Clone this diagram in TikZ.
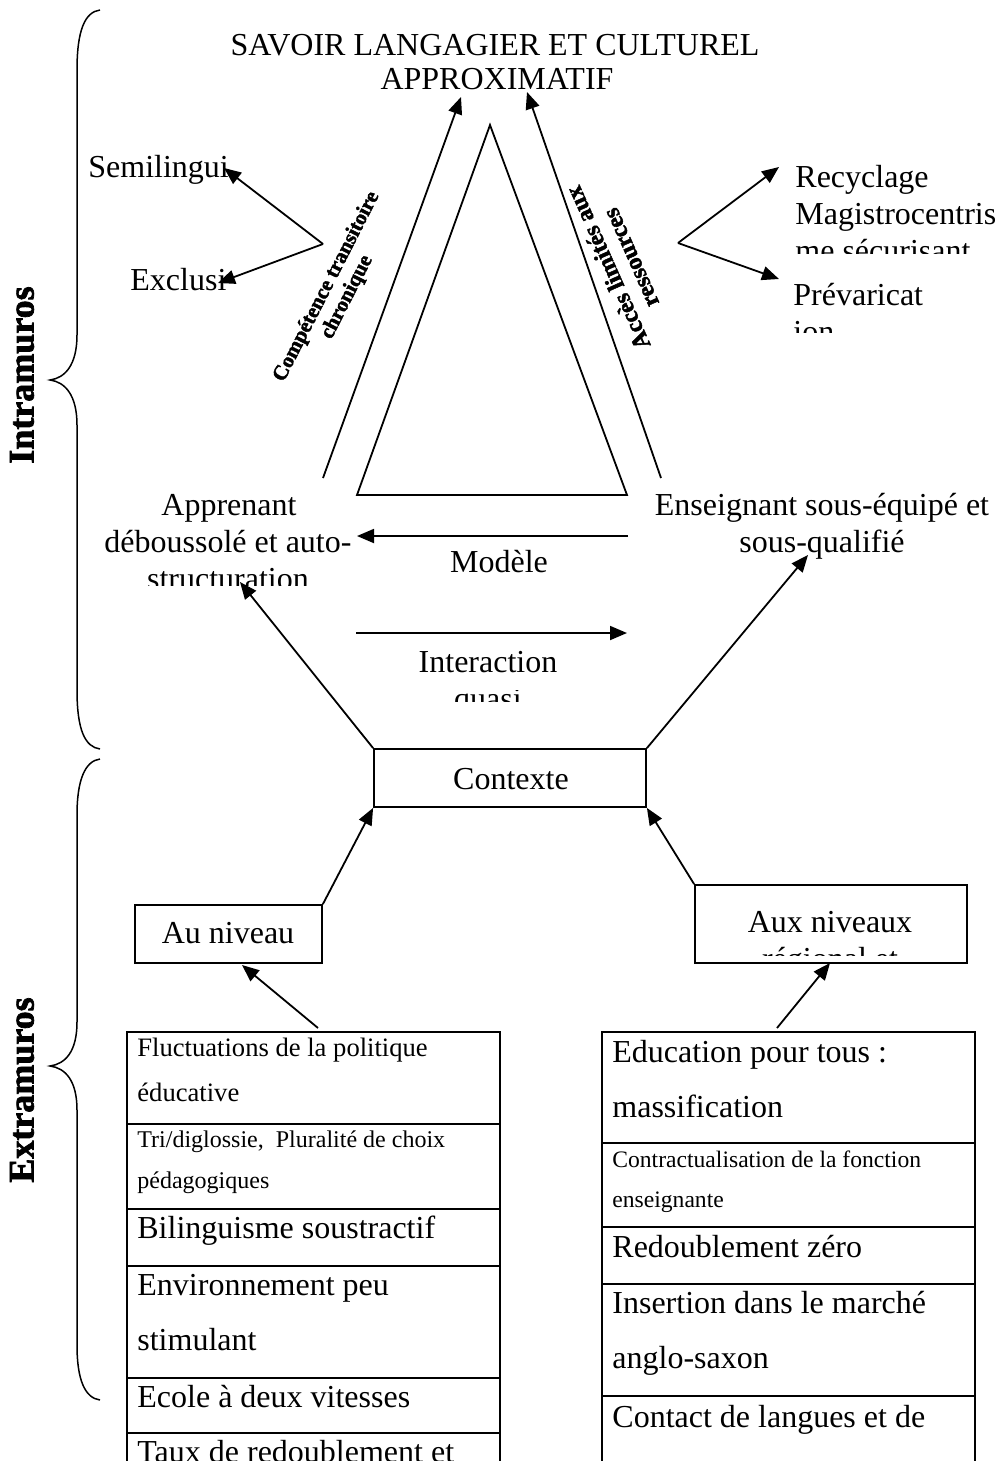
\documentclass[tikz,border=0pt]{standalone}
\usepackage{fontspec}
\setmainfont{Liberation Serif}
\newfontfamily\heavyfont{Liberation Serif}[BoldFeatures={FakeBold=2}]
\usetikzlibrary{arrows.meta}
\begin{document}
\begin{tikzpicture}[x=0.5pt,y=-0.5pt,
  ln/.style={line width=0.9pt},
  arr/.style={line width=0.9pt,-{Triangle[length=8.5pt,width=7pt]}},
  brace/.style={line width=0.75pt},
  boxn/.style={draw,line width=0.9pt,inner sep=0pt},
  t16/.style={inner sep=0pt,font=\fontsize{16}{18.4}\selectfont},
  t13/.style={inner sep=0pt,font=\fontsize{13.3}{15}\selectfont},
  t12/.style={inner sep=0pt,font=\fontsize{12}{14}\selectfont},
  t11/.style={inner sep=0pt,font=\fontsize{11.8}{13.5}\selectfont},
  side/.style={inner sep=0pt,font=\heavyfont\bfseries\fontsize{18}{18}\selectfont,rotate=90}
]
\clip (0,0) rectangle (997,1461);

% title
\node[t16,anchor=base] (title1) at (495,56) {SAVOIR LANGAGIER ET CULTUREL};
\node[t16,anchor=base] (title2) at (497,90) {APPROXIMATIF};

% braces and side labels
\draw[brace] (100,10) .. controls (85,12) and (77,30) .. (77,70) -- (77,335)
  .. controls (77,365) and (65,378) .. (50,380)
  .. controls (65,382) and (77,395) .. (77,425) -- (77,690)
  .. controls (77,730) and (85,747) .. (100,749);
\draw[brace] (100,759) .. controls (85,761) and (77,780) .. (77,815) -- (77,1022)
  .. controls (77,1052) and (65,1064) .. (50,1066)
  .. controls (65,1068) and (77,1080) .. (77,1110) -- (77,1345)
  .. controls (77,1380) and (85,1398) .. (100,1400);
\node[side] (intra) at (22,375) {Intramuros};
\node[side] (extra) at (22,1090) {Extramuros};

% triangle
\coordinate (apex) at (490,125);
\coordinate (tbl) at (357,495);
\coordinate (tbr) at (627,495);
\draw[ln,line join=miter] (apex) -- (tbl) -- (tbr) -- cycle;

% side arrows
\coordinate (lsA) at (323,478); \coordinate (lsB) at (461,97);
\coordinate (rsA) at (661,478); \coordinate (rsB) at (527,92);
\draw[arr] (lsA) -- (lsB);
\draw[arr] (rsA) -- (rsB);

% rotated labels
\node[rotate=63,align=center,inner sep=0pt,font=\heavyfont\bfseries\fontsize{10.5}{11.5}\selectfont] (compL) at (337,292) {Compétence transitoire\\chronique};
\node[rotate=114,align=center,inner sep=0pt,font=\heavyfont\bfseries\fontsize{12}{12.5}\selectfont] (accL) at (619,263) {Accès limités aux\\ressources};

% left fork
\coordinate (forkL) at (323,244);
\coordinate (semiT) at (224,168);
\coordinate (exclT) at (218,283);
\node[t16,anchor=base west] (semi) at (88,177) {Semilingui};
\node[t16,anchor=base west] (excl) at (130,290) {Exclusi};
\draw[arr] (forkL) -- (semiT);
\draw[arr] (forkL) -- (exclT);

% right fork
\coordinate (forkR) at (678,243);
\coordinate (recT) at (779,167);
\coordinate (prevT) at (779,279);
\node[t16,anchor=base west] (rec1) at (795,187) {Recyclage};
\node[t16,anchor=base west] (rec2) at (795,224) {Magistrocentris};
\begin{scope}
  \clip (780,230) rectangle (997,253);
  \node[t16,anchor=base west] (rec3) at (795,261) {me sécurisant};
\end{scope}
\node[t16,anchor=base west] (prev1) at (793,305) {Prévaricat};
\begin{scope}
  \clip (780,312) rectangle (997,332);
  \node[t16,anchor=base west] (prev2) at (793,342) {ion};
\end{scope}
\draw[arr] (forkR) -- (recT);
\draw[arr] (forkR) -- (prevT);

% apprenant / enseignant
\node[t16,anchor=base] (app1) at (229,515) {Apprenant};
\node[t16,anchor=base] (app2) at (228,552) {déboussolé et auto-};
\begin{scope}
  \clip (90,560) rectangle (370,585);
  \node[t16,anchor=base] (app3) at (228,589) {structuration};
\end{scope}
\node[t16,anchor=base] (ens1) at (822,515) {Enseignant sous-équipé et};
\node[t16,anchor=base] (ens2) at (822,552) {sous-qualifié};

% horizontal arrows
\coordinate (modA) at (628,536); \coordinate (modB) at (357,536);
\coordinate (intA) at (356,633); \coordinate (intB) at (627,633);
\draw[arr] (modA) -- (modB);
\draw[arr] (intA) -- (intB);
\node[t16,anchor=base] (mod) at (499,572) {Modèle};
\node[t16,anchor=base] (int1) at (488,672) {Interaction};
\begin{scope}
  \clip (380,690) rectangle (600,701);
  \node[t16,anchor=base] (int2) at (488,709) {quasi};
\end{scope}

% contexte
\node[boxn,minimum width=136pt,minimum height=29pt] (ctx) at (510,778) {};
\node[t16,anchor=base] (ctxT) at (511,789) {Contexte};
\coordinate (appT) at (240,582);
\coordinate (ensT) at (808,555);
\draw[arr] (ctx.north west) -- (appT);
\draw[arr] (ctx.north east) -- (ensT);

% niveau boxes
\node[boxn,minimum width=93.5pt,minimum height=29pt] (auN) at (228.5,934) {};
\node[t16,anchor=base] (auNT) at (228,943) {Au niveau};
\node[boxn,minimum width=136pt,minimum height=39pt] (auxN) at (831,924) {};
\node[t16,anchor=base] (auxNT1) at (830,932) {Aux niveaux};
\begin{scope}
  \clip (700,940) rectangle (960,955);
  \node[t16,anchor=base] (auxNT2) at (830,969) {régional et};
\end{scope}
\draw[arr] (auN.north east) -- (ctx.south west);
\draw[arr] (auxN.north west) -- (ctx.south east);

% left table
\node[boxn,minimum width=186.5pt,minimum height=46pt] (L1) at (313.5,1078) {};
\node[boxn,minimum width=186.5pt,minimum height=42.5pt] (L2) at (313.5,1166.5) {};
\node[boxn,minimum width=186.5pt,minimum height=28.5pt] (L3) at (313.5,1237.5) {};
\node[boxn,minimum width=186.5pt,minimum height=56pt] (L4) at (313.5,1322) {};
\node[boxn,minimum width=186.5pt,minimum height=27.5pt] (L5) at (313.5,1405.5) {};
\node[boxn,minimum width=186.5pt,minimum height=43.5pt] (L6) at (313.5,1476.5) {};
\node[t13,anchor=base west] (l1a) at (137,1056) {Fluctuations de la politique};
\node[t13,anchor=base west] (l1b) at (137,1101) {éducative};
\node[t12,anchor=base west] (l2a) at (137,1147) {Tri/diglossie,\ \ Pluralité de choix};
\node[t12,anchor=base west] (l2b) at (137,1188) {pédagogiques};
\node[t16,anchor=base west] (l3a) at (137,1238) {Bilinguisme soustractif};
\node[t16,anchor=base west] (l4a) at (137,1295) {Environnement peu};
\node[t16,anchor=base west] (l4b) at (137,1350) {stimulant};
\node[t16,anchor=base west] (l5a) at (137,1407) {Ecole à deux vitesses};
\node[t16,anchor=base west] (l6a) at (137,1462) {Taux de redoublement et};

% right table
\node[boxn,minimum width=186.5pt,minimum height=55.5pt] (R1) at (788.5,1087.5) {};
\node[boxn,minimum width=186.5pt,minimum height=42pt] (R2) at (788.5,1185) {};
\node[boxn,minimum width=186.5pt,minimum height=28.5pt] (R3) at (788.5,1255.5) {};
\node[boxn,minimum width=186.5pt,minimum height=56pt] (R4) at (788.5,1340) {};
\node[boxn,minimum width=186.5pt,minimum height=62pt] (R5) at (788.5,1458) {};
\node[t16,anchor=base west] (r1a) at (612,1062) {Education pour tous :};
\node[t16,anchor=base west] (r1b) at (612,1117) {massification};
\node[t11,anchor=base west] (r2a) at (612,1167) {Contractualisation de la fonction};
\node[t11,anchor=base west] (r2b) at (612,1207) {enseignante};
\node[t16,anchor=base west] (r3a) at (612,1257) {Redoublement zéro};
\node[t16,anchor=base west] (r4a) at (612,1313) {Insertion dans le marché};
\node[t16,anchor=base west] (r4b) at (612,1368) {anglo-saxon};
\node[t16,anchor=base west] (r5a) at (612,1427) {Contact de langues et de};

% table arrows
\coordinate (lArrS) at (318,1028); \coordinate (lArrT) at (242,965);
\coordinate (rArrS) at (777,1028); \coordinate (rArrT) at (830,963);
\draw[arr] (lArrS) -- (lArrT);
\draw[arr] (rArrS) -- (rArrT);
\end{tikzpicture}
\end{document}
